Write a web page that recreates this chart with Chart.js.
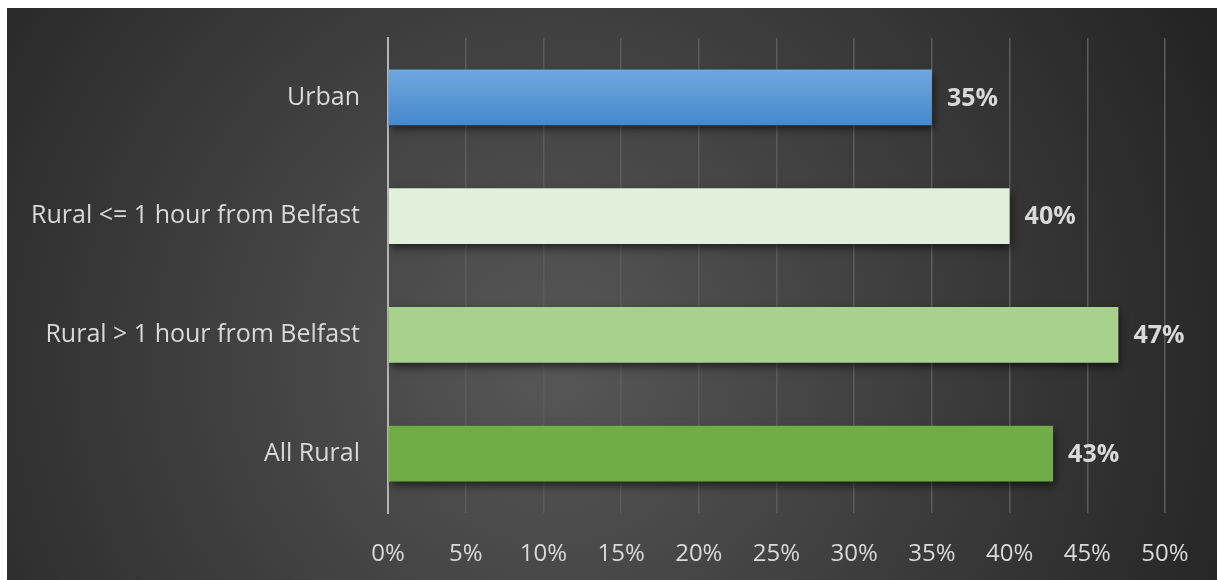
<!DOCTYPE html>
<html>
<head>
<meta charset="utf-8">
<script src="https://cdn.jsdelivr.net/npm/chart.js@4.4.1/dist/chart.umd.min.js"></script>
<style>
  html, body { margin: 0; padding: 0; background: #fff; }
  #wrap { position: absolute; left: 7px; top: 8px; width: 1210px; height: 572px; }
</style>
</head>
<body>
<div id="wrap"><canvas id="barChart"></canvas></div>
<script>
const categories = ['Urban', 'Rural <= 1 hour from Belfast', 'Rural > 1 hour from Belfast', 'All Rural'];
const shares = [35, 40, 47, 42.8];
const barColors = ['#5b9bd5', '#e2efda', '#a9d18e', '#70ad47'];
const tickValues = [0, 5, 10, 15, 20, 25, 30, 35, 40, 45, 50];

const FONT = '"Open Sans", "Noto Sans", sans-serif';
const TEXT = '#d9d9d9';

const bgPlugin = {
  id: 'bg',
  beforeDraw(chart) {
    const c = chart.ctx;
    const w = chart.width, h = chart.height;
    const g = c.createRadialGradient(w * 0.45, h * 0.62, 0, w * 0.45, h * 0.62, w * 0.62);
    g.addColorStop(0, '#575757');
    g.addColorStop(1, '#232323');
    c.save();
    c.fillStyle = g;
    c.fillRect(0, 0, w, h);
    c.restore();
  }
};

const shadowPlugin = {
  id: 'barShadow',
  beforeDatasetsDraw(chart) {
    const c = chart.ctx;
    c.save();
    c.shadowColor = 'rgba(0,0,0,0.55)';
    c.shadowBlur = 8;
    c.shadowOffsetX = 2;
    c.shadowOffsetY = 4;
  },
  afterDatasetsDraw(chart) {
    chart.ctx.restore();
  }
};

const labelPlugin = {
  id: 'valueLabels',
  afterDatasetsDraw(chart) {
    const c = chart.ctx;
    const meta = chart.getDatasetMeta(0);
    c.save();
    c.font = 'bold 25px ' + FONT;
    c.fillStyle = TEXT;
    c.textAlign = 'left';
    c.textBaseline = 'middle';
    meta.data.forEach((bar, i) => {
      c.fillText(Math.round(shares[i]) + '%', bar.x + 15, bar.y + 1);
    });
    c.restore();
  }
};

function barFill(context) {
  const i = context.dataIndex;
  const chart = context.chart;
  if (i !== 0 || !chart.chartArea) return barColors[i];
  const y = chart.scales.y.getPixelForValue(i);
  const g = chart.ctx.createLinearGradient(0, y - 28, 0, y + 28);
  g.addColorStop(0, '#70a8de');
  g.addColorStop(1, '#4588cd');
  return g;
}

const ctx = document.getElementById('barChart').getContext('2d');
const chart = new Chart(ctx, {
  type: 'bar',
  data: {
    labels: categories,
    datasets: [{
      data: shares,
      backgroundColor: barFill,
      borderWidth: 0,
      barPercentage: 0.47,
      categoryPercentage: 1
    }]
  },
  options: {
    indexAxis: 'y',
    responsive: true,
    maintainAspectRatio: false,
    animation: false,
    layout: { padding: { top: 30, right: 52, bottom: 0, left: 0 } },
    plugins: { legend: { display: false }, tooltip: { enabled: false } },
    scales: {
      x: {
        min: 0,
        max: 50,
        afterBuildTicks(scale) { scale.ticks = tickValues.map(v => ({ value: v })); },
        afterFit(scale) {
          scale.height = 67;
          scale.paddingLeft = 0;
          scale.paddingRight = 0;
        },
        grid: { color: '#5c5c5c', lineWidth: 1.5, drawTicks: false },
        border: { display: false },
        ticks: {
          color: TEXT,
          padding: 27,
          font: { family: FONT, size: 24 },
          callback: v => v + '%'
        }
      },
      y: {
        afterFit(scale) {
          scale.width = 381;
          scale.paddingTop = 0;
          scale.paddingBottom = 0;
        },
        grid: { display: false, drawTicks: false },
        border: { display: true, color: '#b4b4b4', width: 2 },
        ticks: {
          color: TEXT,
          padding: 28,
          font: { family: FONT, size: 25 }
        }
      }
    }
  },
  plugins: [bgPlugin, shadowPlugin, labelPlugin]
});
</script>
</body>
</html>
